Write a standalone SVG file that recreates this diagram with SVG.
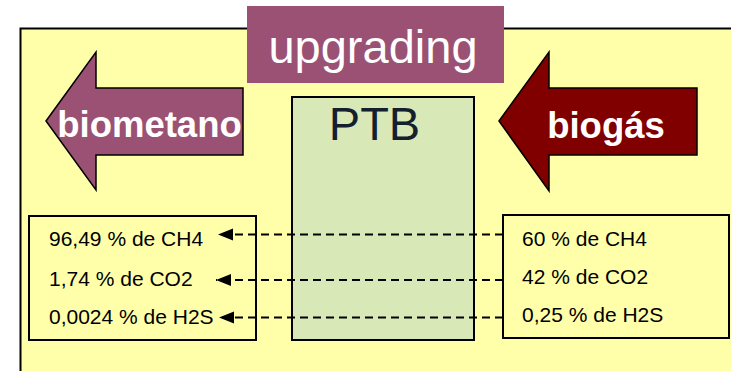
<svg xmlns="http://www.w3.org/2000/svg" width="731" height="371" viewBox="0 0 731 371">
<style>
.box{fill:#FFFFAA;stroke:#000;stroke-width:2}
.val{font-family:"Liberation Sans",Arial,sans-serif;font-size:21px;fill:#000}
.lbl{font-family:"Liberation Sans",Arial,sans-serif;font-weight:bold;font-size:36.5px;fill:#fff}
.dash{stroke:#000;stroke-width:2.2;stroke-dasharray:8 5;fill:none}
</style>
<defs>
<marker id="ah" markerWidth="16" markerHeight="13" refX="15" refY="6" orient="auto" markerUnits="userSpaceOnUse">
<path d="M0,0 L15,6 L0,12 Z" fill="#000"/>
</marker>
</defs>
<rect width="731" height="371" fill="#fff"/>
<g id="background">
<path d="M20.5,371 L20.5,28.5 L731,28.5 L731,371 Z" fill="#FFFFAA"/>
<path d="M20.5,371 L20.5,28.5 L731,28.5" fill="none" stroke="#000" stroke-width="2"/>
</g>
<g id="upgrading">
<rect x="247" y="6" width="257" height="77" fill="#9A5173"/>
<text x="373" y="63" text-anchor="middle" font-family="'Liberation Sans',Arial,sans-serif" font-size="47" fill="#fff">upgrading</text>
</g>
<g id="ptb">
<rect x="292" y="97" width="182" height="243" fill="#D9E8B7" stroke="#000" stroke-width="2"/>
<text x="374.5" y="140" text-anchor="middle" font-family="'Liberation Sans',Arial,sans-serif" font-size="47" fill="#14202E">PTB</text>
</g>
<g id="biometano">
<path d="M46,121 L96,52 L96,88 L243,88 L243,155 L96,155 L96,190 Z" fill="#9A5173" stroke="#000" stroke-width="1.5"/>
<text x="149.5" y="137" text-anchor="middle" class="lbl">biometano</text>
</g>
<g id="biogas">
<path d="M499,121 L549,52 L549,88 L697,88 L697,155 L549,155 L549,191 Z" fill="#800000" stroke="#000" stroke-width="1.5"/>
<text x="606" y="138" text-anchor="middle" class="lbl">biogás</text>
</g>
<g id="output">
<rect class="box" x="29" y="216" width="227" height="124"/>
<text class="val" x="49" y="246">96,49 % de CH4</text>
<text class="val" x="49" y="286">1,74 % de CO2</text>
<text class="val" x="49" y="324">0,0024 % de H2S</text>
</g>
<g id="input">
<rect class="box" x="503" y="215" width="226" height="123"/>
<text class="val" x="522" y="246">60 % de CH4</text>
<text class="val" x="522" y="284">42 % de CO2</text>
<text class="val" x="522" y="322">0,25 % de H2S</text>
</g>
<g id="connectors">
<line class="dash" x1="503" y1="234.5" x2="218" y2="234.5" marker-end="url(#ah)"/>
<line class="dash" x1="503" y1="280" x2="216" y2="280" marker-end="url(#ah)"/>
<line class="dash" x1="503" y1="317.5" x2="219" y2="317.5" marker-end="url(#ah)"/>
</g>
</svg>
